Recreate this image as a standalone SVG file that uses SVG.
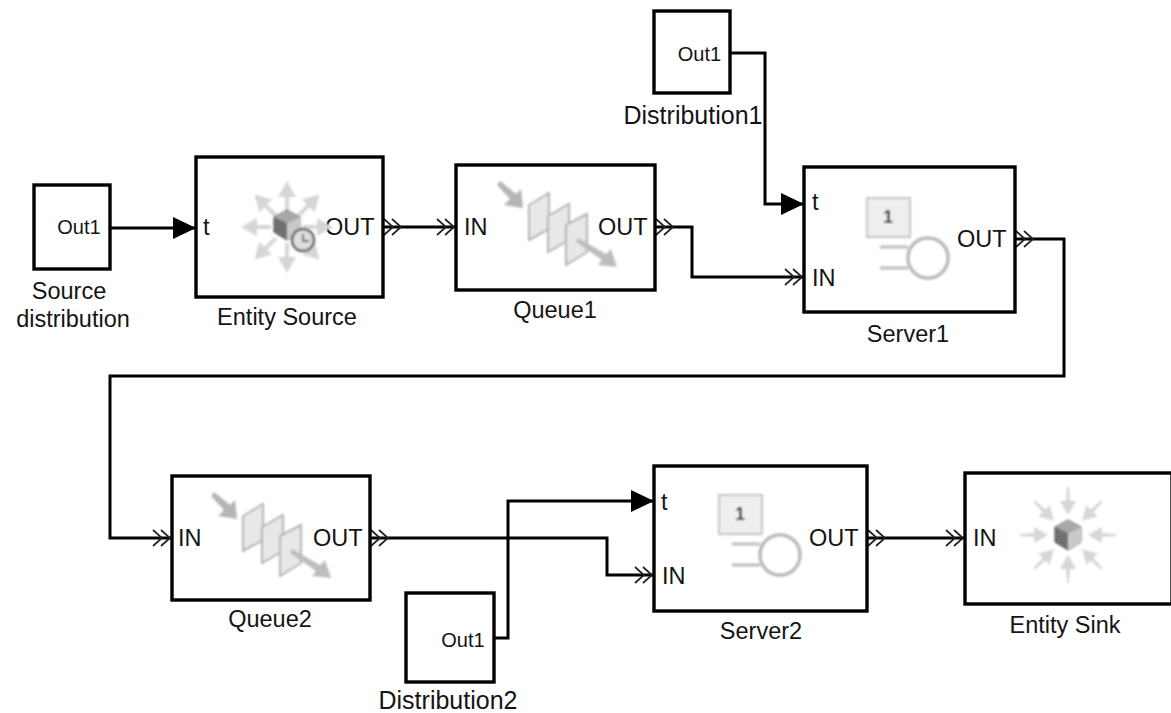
<svg xmlns="http://www.w3.org/2000/svg" width="1171" height="713" viewBox="0 0 1171 713">
<style>
text{font-family:"Liberation Sans",Arial,sans-serif;fill:#141414}
.box{fill:#fff;stroke:#000;stroke-width:3.4}
.lbl{font-size:23.5px;text-anchor:middle}
.lbl.wide{font-size:25px}
.port{font-size:23.5px}
.out1{font-size:20px;text-anchor:middle}
.wire{fill:none;stroke:#000;stroke-width:3}
.ga{fill:#d6d6d6;stroke:none}
.pg{fill:#e8e8e8;stroke:#b4b4b4;stroke-width:2}
.ic{filter:url(#soft)}
</style>
<defs>
<filter id="soft" x="-10%" y="-10%" width="120%" height="120%"><feGaussianBlur stdDeviation="0.8"/></filter>
<marker id="tri" markerUnits="userSpaceOnUse" markerWidth="26" markerHeight="26" refX="24" refY="13" orient="auto"><path d="M1 2L24 13L1 24Z" fill="#000"/></marker>
<marker id="dbl" markerUnits="userSpaceOnUse" markerWidth="24" markerHeight="20" refX="22" refY="10" orient="auto"><path d="M3 2L12 10L3 18M11 2L20 10L11 18" fill="none" stroke="#222" stroke-width="1.7"/></marker>
<marker id="dblout" markerUnits="userSpaceOnUse" markerWidth="24" markerHeight="20" refX="1" refY="10" orient="auto"><path d="M2 2L11 10L2 18M10 2L19 10L10 18" fill="none" stroke="#222" stroke-width="1.7"/></marker>
<g id="qicon">
<path d="M-59 -40L-56 -44L-40 -31L-35 -36L-33 -17L-52 -20L-46 -26Z" fill="#b5b5b5"/>
<path class="pg" d="M-27 -20L-7 -32V4L-27 15Z"/>
<path class="pg" d="M-8 -9L13 -21V15L-8 27Z"/>
<path class="pg" d="M10 0L31 -11V27L10 40Z"/>
<path d="M22 13L50 29L55 24L61 42L42 40L46 35L20 17Z" fill="#bdbdbd"/>
</g>
<g id="sicon">
<rect x="-20" y="-47" width="43" height="39" fill="#efefef" stroke="#c4c4c4" stroke-width="2"/>
<text x="1" y="-22" font-size="18" font-weight="bold" text-anchor="middle">1</text>
<circle cx="41" cy="13" r="20" fill="#fff" stroke="#b8b8b8" stroke-width="3.5"/>
<path d="M-7 2H21M-7 23H21" stroke="#bcbcbc" stroke-width="3" fill="none"/>
</g>
<path id="rout" class="ga" d="M0 -46L9 -30L2 -30V-16H-2V-30H-9Z"/>
<path id="rin" class="ga" d="M-1 -48H1L2 -34H8L0 -20L-8 -34H-2Z"/>
<g id="raysout">
<use href="#rout"/><use href="#rout" transform="rotate(45)"/><use href="#rout" transform="rotate(90)"/><use href="#rout" transform="rotate(135)"/><use href="#rout" transform="rotate(180)"/><use href="#rout" transform="rotate(225)"/><use href="#rout" transform="rotate(270)"/><use href="#rout" transform="rotate(315)"/>
</g>
<g id="raysin">
<use href="#rin"/><use href="#rin" transform="rotate(45)"/><use href="#rin" transform="rotate(90)"/><use href="#rin" transform="rotate(135)"/><use href="#rin" transform="rotate(180)"/><use href="#rin" transform="rotate(225)"/><use href="#rin" transform="rotate(270)"/><use href="#rin" transform="rotate(315)"/>
</g>
<g id="cube">
<path d="M-13 -8L0 -15L13 -8V7L0 15L-13 7Z" fill="#6f6f6f" stroke="#444" stroke-width="1"/>
<path d="M-13 -8L0 -15L13 -8L0 -2Z" fill="#a8a8a8"/>
<path d="M0 -2L13 -8V7L0 15Z" fill="#c9c9c9"/>
</g>
</defs>

<g id="connectors">
<path class="wire" d="M110 228H196" marker-end="url(#tri)"/>
<path class="wire" d="M383 227H456" marker-start="url(#dblout)" marker-end="url(#dbl)"/>
<path class="wire" d="M655 227H692V277H804" marker-start="url(#dblout)" marker-end="url(#dbl)"/>
<path class="wire" d="M730 53H765V204H804" marker-end="url(#tri)"/>
<path class="wire" d="M1015 239H1064V376H110V538H172" marker-start="url(#dblout)" marker-end="url(#dbl)"/>
<path class="wire" d="M370 538H607V575H654" marker-start="url(#dblout)" marker-end="url(#dbl)"/>
<path class="wire" d="M494 638H508V501H654" marker-end="url(#tri)"/>
<path class="wire" d="M867 538H965" marker-start="url(#dblout)" marker-end="url(#dbl)"/>
</g>

<g id="source-distribution">
<rect class="box" x="34" y="185" width="76" height="84"/>
<text class="out1" x="79" y="234">Out1</text>
<text class="lbl" x="69" y="299">Source</text>
<text class="lbl" x="73" y="327">distribution</text>
</g>
<g id="entity-source">
<rect class="box" x="196" y="157" width="187" height="140"/>
<text class="port" x="203" y="235">t</text>
<text class="port" x="325" y="235">OUT</text>
<g class="ic">
<use href="#raysout" transform="translate(287,227)"/>
<use href="#cube" transform="translate(287,225)"/>
<circle cx="303" cy="240" r="11" fill="#ddd" stroke="#666" stroke-width="2.5"/>
<path d="M303 234V241H309" fill="none" stroke="#444" stroke-width="1.5"/>
</g>
<text class="lbl" x="287" y="325">Entity Source</text>
</g>
<g id="queue1">
<rect class="box" x="456" y="165" width="199" height="125"/>
<text class="port" x="464" y="235">IN</text>
<text class="port" x="598" y="235">OUT</text>
<use class="ic" href="#qicon" transform="translate(556,225)"/>
<text class="lbl" x="555" y="318">Queue1</text>
</g>
<g id="distribution1">
<rect class="box" x="654" y="11" width="76" height="82"/>
<text class="out1" x="699.5" y="61">Out1</text>
<text class="lbl wide" x="693" y="124">Distribution1</text>
</g>
<g id="server1">
<rect class="box" x="804" y="167" width="211" height="145"/>
<text class="port" x="812" y="210">t</text>
<text class="port" x="812" y="286">IN</text>
<text class="port" x="957" y="247">OUT</text>
<use class="ic" href="#sicon" transform="translate(887,245)"/>
<text class="lbl" x="908" y="342">Server1</text>
</g>
<g id="queue2">
<rect class="box" x="172" y="476" width="198" height="124"/>
<text class="port" x="178" y="546">IN</text>
<text class="port" x="313" y="546">OUT</text>
<use class="ic" href="#qicon" transform="translate(270,536)"/>
<text class="lbl" x="270" y="627">Queue2</text>
</g>
<g id="server2">
<rect class="box" x="654" y="466" width="213" height="145"/>
<text class="port" x="661" y="510">t</text>
<text class="port" x="662" y="584">IN</text>
<text class="port" x="809" y="546">OUT</text>
<use class="ic" href="#sicon" transform="translate(739,542)"/>
<text class="lbl" x="761" y="639">Server2</text>
</g>
<g id="entity-sink">
<rect class="box" x="965" y="473" width="207" height="131"/>
<text class="port" x="973" y="546">IN</text>
<g class="ic">
<use href="#raysin" transform="translate(1068,535)"/>
<use href="#cube" transform="translate(1068,535)"/>
</g>
<text class="lbl" x="1065" y="633">Entity Sink</text>
</g>
<g id="distribution2">
<rect class="box" x="406" y="593" width="88" height="89"/>
<text class="out1" x="463" y="647">Out1</text>
<text class="lbl wide" x="448" y="709">Distribution2</text>
</g>
</svg>
